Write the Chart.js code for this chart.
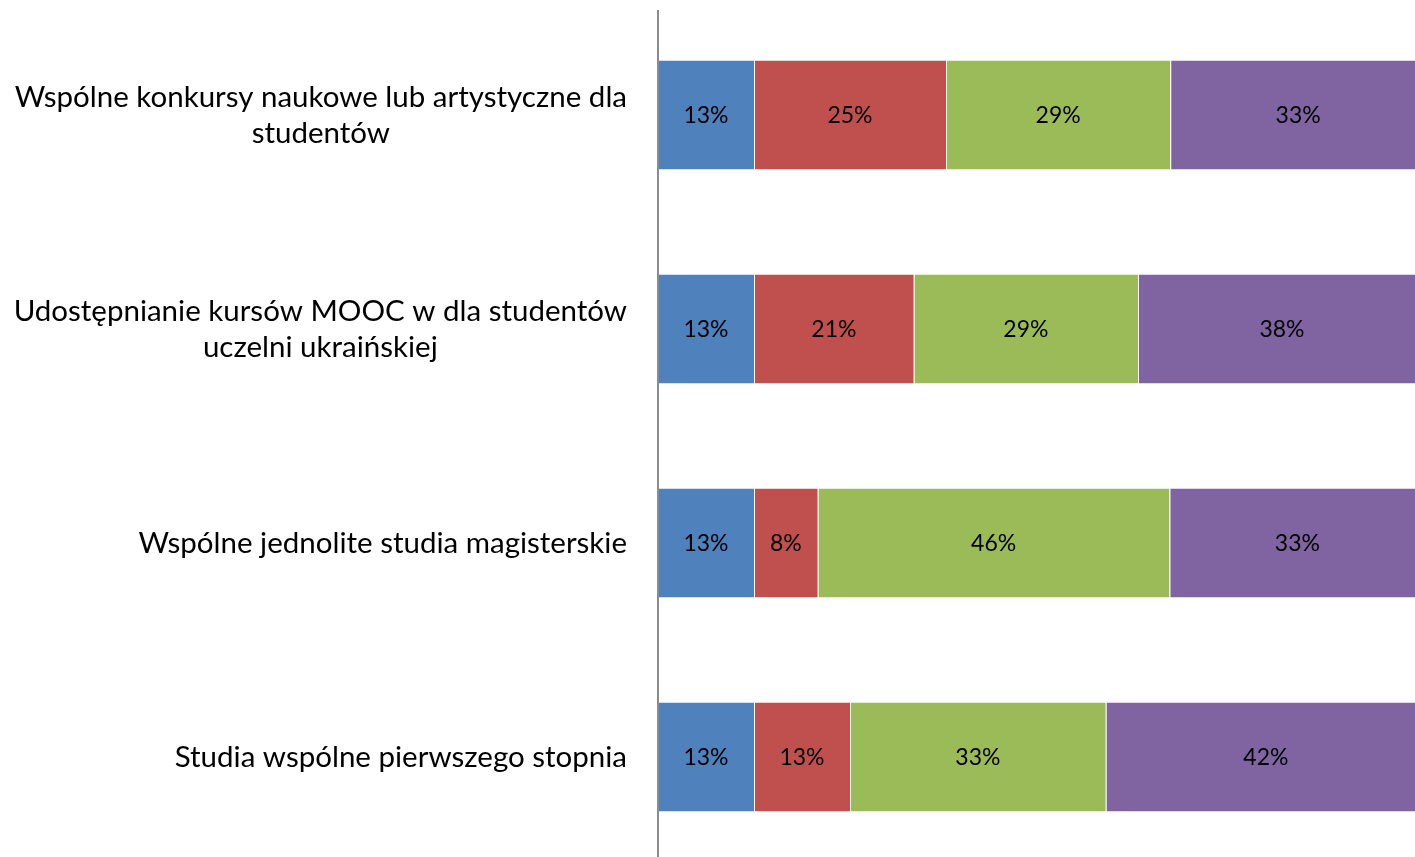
<!DOCTYPE html>
<html>
<head>
<meta charset="utf-8">
<script src="https://cdn.jsdelivr.net/npm/chart.js@4/dist/chart.umd.min.js"></script>
<style>
    html, body {margin: 0; padding: 0; background: #fff; overflow: hidden;}
    #wrap {width: 1426px; height: 870px;}
</style>
</head>
<body>
<div id="wrap"><canvas id="chart"></canvas></div>
<script>
// categories (one array of lines per bar)
const categories = [
    ["Wspólne konkursy naukowe lub artystyczne dla", "studentów"],
    ["Udostępnianie kursów MOOC w dla studentów", "uczelni ukraińskiej"],
    ["Wspólne jednolite studia magisterskie"],
    ["Studia wspólne pierwszego stopnia"],
];

// shares in percent
const series1 = [12.5, 12.5, 12.5, 12.5];
const series2 = [25.0, 20.8, 8.3, 12.5];
const series3 = [29.2, 29.2, 45.8, 33.3];
const series4 = [33.3, 37.5, 33.3, 41.7];

const colors = ["#4F81BD", "#C0504D", "#9BBB59", "#8064A2"];
const FONT = "Lato, 'Open Sans', sans-serif";

// category labels + axis line + segment labels
const drawExtras = {
    id: "drawExtras",
    afterDatasetsDraw(chart) {
        const ctx = chart.ctx;
        const yScale = chart.scales.y;
        const xScale = chart.scales.x;
        const axisX = xScale.getPixelForValue(0);

        // segment value labels
        ctx.save();
        ctx.font = "23px " + FONT;
        ctx.fillStyle = "#000";
        ctx.textAlign = "center";
        ctx.textBaseline = "middle";
        chart.data.datasets.forEach((ds, i) => {
            chart.getDatasetMeta(i).data.forEach((bar, j) => {
                const {x, base, y} = bar.getProps(["x", "base", "y"], true);
                ctx.fillText(Math.round(ds.data[j]) + "%", (x + base) / 2, y + 1);
            });
        });
        ctx.restore();

        // left category labels
        ctx.save();
        ctx.font = "29.5px " + FONT;
        ctx.fillStyle = "#000";
        ctx.textAlign = "center";
        ctx.textBaseline = "middle";
        const rightEdge = axisX - 31;
        const lineH = 36;
        categories.forEach((lines, i) => {
            const cy = yScale.getPixelForValue(i);
            const w = Math.max(...lines.map(l => ctx.measureText(l).width));
            const cx = rightEdge - w / 2;
            const top = cy - (lines.length - 1) * lineH / 2;
            lines.forEach((l, k) => ctx.fillText(l, cx, top + k * lineH));
        });
        ctx.restore();

        // vertical axis line
        ctx.save();
        ctx.strokeStyle = "#8C8C8C";
        ctx.lineWidth = 2;
        ctx.beginPath();
        ctx.moveTo(axisX, 10);
        ctx.lineTo(axisX, chart.height);
        ctx.stroke();
        ctx.restore();
    },
};

const seriesList = [series1, series2, series3, series4];

new Chart(document.getElementById("chart"), {
    type: "bar",
    data: {
        labels: categories,
        datasets: seriesList.map((s, i) => ({
            label: "S" + (i + 1),
            data: s,
            backgroundColor: colors[i],
            borderColor: "rgba(255,255,255,0.6)",
            borderWidth: {left: 1, right: 0, top: 0, bottom: 0},
            borderSkipped: false,
            barPercentage: 1,
            categoryPercentage: 0.51,
        })),
    },
    options: {
        indexAxis: "y",
        responsive: true,
        maintainAspectRatio: false,
        animation: false,
        layout: {
            padding: {left: 658, right: 0, top: 8, bottom: 6},
        },
        plugins: {
            legend: {display: false},
            tooltip: {enabled: false},
        },
        scales: {
            x: {
                stacked: true,
                min: 0,
                max: 100,
                display: false,
            },
            y: {
                stacked: true,
                display: false,
            },
        },
    },
    plugins: [drawExtras],
});
</script>
</body>
</html>
